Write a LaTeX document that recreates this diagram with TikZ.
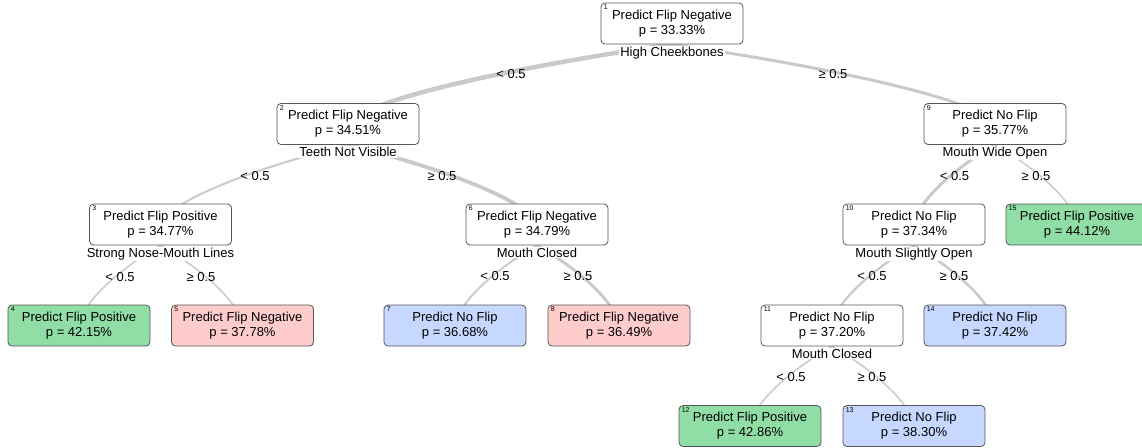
\documentclass[tikz,border=0pt]{standalone}
\usepackage{fontspec}
\setmainfont{Liberation Sans}
\usetikzlibrary{backgrounds,calc}
\definecolor{leafgreen}{RGB}{144,222,166}
\definecolor{leafred}{RGB}{255,204,204}
\definecolor{leafblue}{RGB}{198,216,255}
\definecolor{boxline}{RGB}{85,85,85}
\definecolor{edgegray}{RGB}{202,202,202}
\newcommand\tedge[3]{\draw[edgeline,line width=#3] let \p1=(#1), \p2=(#2) in (\p1) .. controls ({\x1+0.35*(\x2-\x1)},{\y1+0.2*(\y2-\y1)}) and ({\x1+0.94*(\x2-\x1)},{\y1+0.64*(\y2-\y1)}) .. (\p2);}
\tikzset{
  tbox/.style={draw=boxline, line width=0.8pt, rounded corners=4pt, minimum width=142pt, minimum height=41pt, inner sep=0pt, align=center, font=\fontsize{13}{15}\selectfont, fill=white},
  gbox/.style={tbox, fill=leafgreen},
  rbox/.style={tbox, fill=leafred},
  bbox/.style={tbox, fill=leafblue},
  num/.style={font=\fontsize{7}{8}\selectfont, inner sep=0pt, anchor=north west, xshift=3pt, yshift=-2pt},
  split/.style={font=\fontsize{13}{15}\selectfont, fill=white, inner sep=1pt, anchor=north, yshift=-1pt},
  elab/.style={font=\fontsize{13}{15}\selectfont, inner sep=0pt},
  edgeline/.style={draw=edgegray, line cap=round}
}
\begin{document}
\begin{tikzpicture}[x=1pt,y=-1pt]
\useasboundingbox (0,0) rectangle (1142,447);
% nodes
\node[tbox] (n1) at (672,23.5) {Predict Flip Negative\\p = 33.33\%};
\node[tbox] (n2) at (348,124) {Predict Flip Negative\\p = 34.51\%};
\node[tbox] (n9) at (995,124) {Predict No Flip\\p = 35.77\%};
\node[tbox] (n3) at (160.5,224.5) {Predict Flip Positive\\p = 34.77\%};
\node[tbox] (n6) at (537,224.5) {Predict Flip Negative\\p = 34.79\%};
\node[tbox] (n10) at (914,224.5) {Predict No Flip\\p = 37.34\%};
\node[gbox] (n15) at (1077,224.5) {Predict Flip Positive\\p = 44.12\%};
\node[gbox] (n4) at (79,325.5) {Predict Flip Positive\\p = 42.15\%};
\node[rbox] (n5) at (242.5,325.5) {Predict Flip Negative\\p = 37.78\%};
\node[bbox] (n7) at (455,325.5) {Predict No Flip\\p = 36.68\%};
\node[rbox] (n8) at (619,325.5) {Predict Flip Negative\\p = 36.49\%};
\node[tbox] (n11) at (832,325.5) {Predict No Flip\\p = 37.20\%};
\node[bbox] (n14) at (995,325.5) {Predict No Flip\\p = 37.42\%};
\node[gbox] (n12) at (750,426) {Predict Flip Positive\\p = 42.86\%};
\node[bbox] (n13) at (914,426) {Predict No Flip\\p = 38.30\%};
% node numbers
\foreach \k in {1,2,3,4,5,6,7,8,9,10,11,12,13,14,15}
  \node[num] (id\k) at (n\k.north west) {\k};
% split labels
\node[split] (s1) at (n1.south) {High Cheekbones};
\node[split] (s2) at (n2.south) {Teeth Not Visible};
\node[split] (s9) at (n9.south) {Mouth Wide Open};
\node[split] (s3) at (n3.south) {Strong Nose-Mouth Lines};
\node[split] (s6) at (n6.south) {Mouth Closed};
\node[split] (s10) at (n10.south) {Mouth Slightly Open};
\node[split] (s11) at (n11.south) {Mouth Closed};
% edges
\begin{scope}[on background layer]
\tedge{n1.south}{n2.center}{4.5pt}
\tedge{n1.south}{n9.center}{3pt}
\tedge{n2.south}{n3.center}{2pt}
\tedge{n2.south}{n6.center}{3.8pt}
\tedge{n9.south}{n10.center}{3pt}
\tedge{n9.south}{n15.center}{1.5pt}
\tedge{n3.south}{n4.center}{1.5pt}
\tedge{n3.south}{n5.center}{1.5pt}
\tedge{n6.south}{n7.center}{2pt}
\tedge{n6.south}{n8.center}{3pt}
\tedge{n10.south}{n11.center}{2.2pt}
\tedge{n10.south}{n14.center}{2.5pt}
\tedge{n11.south}{n12.center}{1.5pt}
\tedge{n11.south}{n13.center}{1.5pt}
\end{scope}
% edge labels
\node[elab] (l1a) at (511,74) {< 0.5};
\node[elab] (l1b) at (833,74) {≥ 0.5};
\node[elab] (l2a) at (255,176) {< 0.5};
\node[elab] (l2b) at (442,176) {≥ 0.5};
\node[elab] (l9a) at (954.5,176) {< 0.5};
\node[elab] (l9b) at (1036,176) {≥ 0.5};
\node[elab] (l3a) at (120,277) {< 0.5};
\node[elab] (l3b) at (201,277) {≥ 0.5};
\node[elab] (l6a) at (495,276) {< 0.5};
\node[elab] (l6b) at (578,276) {≥ 0.5};
\node[elab] (l10a) at (872,276) {< 0.5};
\node[elab] (l10b) at (954,276) {≥ 0.5};
\node[elab] (l11a) at (791,377) {< 0.5};
\node[elab] (l11b) at (872,377) {≥ 0.5};
\end{tikzpicture}
\end{document}
